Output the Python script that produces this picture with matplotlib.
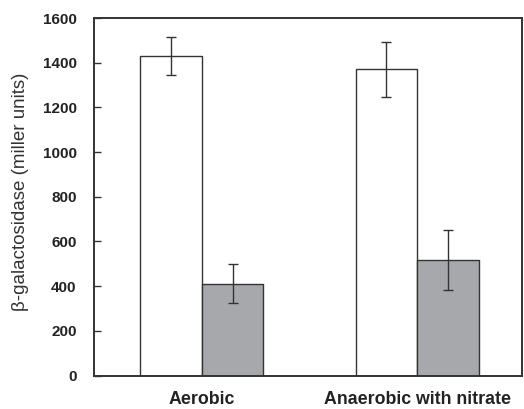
import matplotlib
matplotlib.use("Agg")
import matplotlib.pyplot as plt
import numpy as np

categories = ["Aerobic", "Anaerobic with nitrate"]
white_vals = [1430, 1370]
white_err = [85, 122]
gray_vals = [410, 518]
gray_err = [87, 134]
yticks = [0, 200, 400, 600, 800, 1000, 1200, 1400, 1600]

plt.rcParams['font.family'] = ['Liberation Sans', 'DejaVu Sans']

fig = plt.figure(figsize=(5.24, 4.09), dpi=100)
ax = fig.add_axes([94/524, 1 - 375.5/409, 428/524, 357.5/409])

x = np.arange(len(categories))
w = 0.286
edge = '#333333'
ax.bar(x - w/2, white_vals, w, color='white', edgecolor=edge, linewidth=1.0, zorder=2)
ax.bar(x + w/2, gray_vals, w, color='#a7a8ab', edgecolor=edge, linewidth=1.0, zorder=2)
ax.errorbar(x - w/2, white_vals, yerr=white_err, fmt='none', ecolor=edge,
            elinewidth=1.0, capsize=3.3, capthick=1.0, zorder=3)
ax.errorbar(x + w/2, gray_vals, yerr=gray_err, fmt='none', ecolor=edge,
            elinewidth=1.0, capsize=3.3, capthick=1.0, zorder=3)

ax.set_xlim(-0.502, 1.488)
ax.set_ylim(0, 1600)
ax.set_yticks(yticks)
ax.set_yticklabels([str(t) for t in yticks], fontsize=11, fontweight='bold', color='#222222')
ax.set_xticks(x)
ax.set_xticklabels(categories, fontsize=12.8, fontweight='bold', color='#222222')
ax.tick_params(axis='y', direction='in', length=5, width=1, color=edge, pad=12.5)
ax.tick_params(axis='x', length=0, pad=11.5)
for s in ax.spines.values():
    s.set_linewidth(1.4)
    s.set_color(edge)
fig.text(21/524, 1 - 192/409, "β-galactosidase (miller units)", fontsize=13.5,
         color='#333333', rotation=90, ha='center', va='center')

fig.savefig("out.png", dpi=100)
